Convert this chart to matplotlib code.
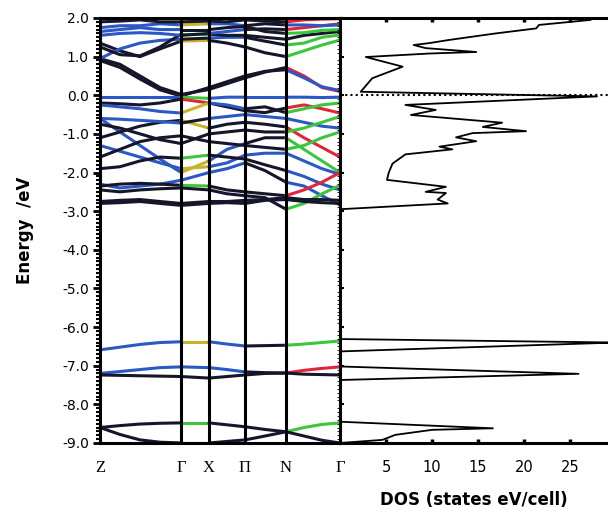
import matplotlib
matplotlib.use("Agg")
import matplotlib.pyplot as plt
from matplotlib.ticker import MultipleLocator

# k-path sample positions (path units) and high-symmetry labels
K_GRID = [0, 20, 40, 60, 81, 109, 127, 145, 165, 186, 204, 222, 240]
K_LABEL_POS = [0, 81, 109, 145, 186, 240]
K_LABELS = ["Z", "Γ", "X", "Π", "N", "Γ"]
SEG_IDX = [0, 4, 5, 7, 9, 12]

# conduction bands (eV at each K_GRID point) and per-segment colours
COND_BANDS = [
    [0.95, 0.80, 0.50, 0.20, 0.02, 0.15, 0.30, 0.45, 0.60, 0.72, 0.50, 0.20, 0.10],
    [0.90, 0.72, 0.42, 0.14, -0.02, 0.20, 0.35, 0.50, 0.62, 0.66, 0.45, 0.22, 0.12],
    [1.35, 1.15, 1.00, 1.20, 1.40, 1.42, 1.35, 1.25, 1.10, 1.00, 1.15, 1.30, 1.43],
    [0.95, 1.20, 1.35, 1.42, 1.45, 1.48, 1.50, 1.50, 1.40, 1.30, 1.35, 1.50, 1.56],
    [1.25, 1.05, 1.02, 1.25, 1.58, 1.58, 1.55, 1.55, 1.50, 1.45, 1.55, 1.60, 1.65],
    [1.55, 1.60, 1.62, 1.60, 1.55, 1.60, 1.65, 1.70, 1.72, 1.70, 1.75, 1.80, 1.85],
    [1.75, 1.80, 1.80, 1.85, 1.82, 1.85, 1.85, 1.80, 1.85, 1.82, 1.82, 1.80, 1.82],
    [1.65, 1.70, 1.75, 1.70, 1.70, 1.70, 1.75, 1.78, 1.65, 1.60, 1.62, 1.68, 1.70],
    [1.90, 1.92, 1.95, 1.90, 1.90, 1.92, 1.90, 1.95, 1.92, 1.90, 1.95, 1.97, 1.98],
]
COND_COLORS = ["kkkkr", "kkkkb", "kykkg", "bkbkg", "kgkkk", "bkbkr", "bybkb", "bkkkg", "kkkkr"]

VAL_BANDS = [
    [-0.05, -0.05, -0.05, -0.05, -0.05, -0.08, -0.05, -0.05, -0.05, -0.05, -0.05, -0.06, -0.05],
    [-0.20, -0.22, -0.25, -0.20, -0.10, -0.20, -0.30, -0.40, -0.45, -0.33, -0.25, -0.35, -0.46],
    [-0.25, -0.30, -0.35, -0.42, -0.46, -0.20, -0.25, -0.35, -0.30, -0.45, -0.35, -0.25, -0.20],
    [-0.60, -0.95, -1.30, -1.65, -2.00, -1.70, -1.40, -1.25, -1.10, -1.10, -1.40, -1.70, -2.00],
    [-1.10, -0.95, -0.80, -0.70, -0.65, -0.85, -0.75, -0.70, -0.75, -0.82, -1.10, -1.35, -1.60],
    [-0.60, -0.62, -0.65, -0.68, -0.72, -0.60, -0.55, -0.50, -0.55, -0.60, -0.70, -0.80, -0.85],
    [-0.75, -0.85, -1.00, -1.15, -1.25, -1.00, -0.95, -0.90, -0.95, -0.95, -0.85, -0.70, -0.55],
    [-1.30, -1.45, -1.60, -1.75, -1.90, -1.85, -1.75, -1.55, -1.50, -1.50, -1.70, -1.90, -2.05],
    [-1.60, -1.40, -1.20, -1.10, -1.05, -1.20, -1.25, -1.30, -1.35, -1.40, -1.30, -1.10, -0.95],
    [-1.90, -1.85, -1.70, -1.60, -1.63, -1.55, -1.60, -1.65, -1.80, -1.95, -2.10, -2.30, -2.45],
    [-2.30, -2.40, -2.35, -2.30, -2.20, -2.00, -1.90, -1.75, -1.95, -2.25, -2.35, -2.60, -2.84],
    [-2.35, -2.30, -2.28, -2.30, -2.33, -2.35, -2.45, -2.50, -2.55, -2.60, -2.45, -2.25, -2.00],
    [-2.45, -2.50, -2.45, -2.42, -2.40, -2.45, -2.55, -2.60, -2.65, -2.95, -2.80, -2.55, -2.33],
    [-2.75, -2.72, -2.70, -2.75, -2.80, -2.75, -2.75, -2.72, -2.70, -2.65, -2.70, -2.70, -2.72],
    [-2.80, -2.78, -2.75, -2.80, -2.85, -2.80, -2.78, -2.80, -2.72, -2.70, -2.75, -2.78, -2.80],
]
VAL_COLORS = ["bgbbb", "krkkr", "bybkg", "bybkg", "kykkr", "bkbbb", "kkkkg", "bybbb",
              "kkkkg", "kgkkb", "bbbkb", "kgkkr", "kkkkg", "kkkkk", "kkkkk"]

CORE_BANDS = [
    [-6.59, -6.52, -6.45, -6.40, -6.38, -6.38, -6.44, -6.49, -6.48, -6.47, -6.44, -6.40, -6.36],
    [-7.20, -7.15, -7.10, -7.05, -7.03, -7.05, -7.10, -7.16, -7.18, -7.19, -7.12, -7.07, -7.03],
    [-7.24, -7.25, -7.26, -7.27, -7.28, -7.32, -7.28, -7.24, -7.20, -7.19, -7.22, -7.23, -7.24],
    [-8.60, -8.55, -8.51, -8.49, -8.48, -8.48, -8.53, -8.58, -8.65, -8.71, -8.60, -8.52, -8.48],
    [-8.60, -8.78, -8.92, -8.98, -9.00, -9.00, -8.96, -8.92, -8.82, -8.71, -8.82, -8.93, -9.00],
]
CORE_COLORS = ["bybkg", "bbbkr", "kkkkk", "kgkkg", "kkkkk"]

# density of states: (DOS value, energy) along the curve
DOS_VALUE = [27.2, 21.6, 21.3, 16.9, 11.8, 9.7, 8.0, 9.3, 14.8, 9.7, 2.8, 6.8, 3.5, 2.25,
             27.9, 7.1, 10.4, 7.7, 17.6, 15.5, 20.2, 14.4, 12.6, 14.8, 10.8, 12.2, 7.1, 5.7,
             5.3, 5.1, 11.5, 9.3, 11.5, 10.6, 11.7, 0.0,
             0.0, 0.0, 30.0, 0.0, 0.0, 25.9, 0.0, 0.0, 16.6, 10.0, 6.0, 4.6, 0.0]
DOS_ENERGY = [1.95, 1.82, 1.73, 1.60, 1.43, 1.35, 1.30, 1.22, 1.12, 1.08, 0.99, 0.74, 0.44, 0.09,
              -0.03, -0.25, -0.38, -0.51, -0.71, -0.82, -0.93, -0.98, -1.09, -1.19, -1.33, -1.40,
              -1.53, -1.77, -2.00, -2.19, -2.37, -2.50, -2.53, -2.70, -2.80, -2.95,
              -6.25, -6.31, -6.40, -6.63, -7.02, -7.21, -7.37, -8.45, -8.62, -8.66, -8.79, -8.92, -9.00]

COLOR_MAP = {"k": "#16162b", "b": "#2a58c4", "g": "#3cc63c", "r": "#e0263a", "y": "#c9b22c"}


def draw_bands(ax, bands, colors):
    for energies, cols in zip(bands, colors):
        for s in range(5):
            i0, i1 = SEG_IDX[s], SEG_IDX[s + 1]
            ax.plot(K_GRID[i0:i1 + 1], energies[i0:i1 + 1], color=COLOR_MAP[cols[s]],
                    lw=2.2, solid_capstyle="round", solid_joinstyle="round", zorder=2)


def main() -> None:
    fig = plt.figure(figsize=(6.08, 5.08), dpi=100)
    fig.patch.set_facecolor("white")

    ax = fig.add_axes([0.1645, 0.128, 0.3947, 0.8366])
    dos = fig.add_axes([0.5592, 0.128, 0.4408, 0.8366], sharey=ax)

    draw_bands(ax, COND_BANDS, COND_COLORS)
    draw_bands(ax, VAL_BANDS, VAL_COLORS)
    draw_bands(ax, CORE_BANDS, CORE_COLORS)
    for kp in K_LABEL_POS[1:-1]:
        ax.axvline(kp, color="black", lw=2.2, zorder=3)

    ax.set_xlim(K_LABEL_POS[0], K_LABEL_POS[-1])
    ax.set_ylim(-9.0, 2.0)
    ax.set_xticks(K_LABEL_POS)
    ax.set_xticklabels(K_LABELS, family="Liberation Serif", fontsize=12)
    ax.tick_params(axis="x", length=0, pad=12)
    ax.yaxis.set_major_locator(MultipleLocator(1.0))
    ax.yaxis.set_minor_locator(MultipleLocator(0.1))
    ax.yaxis.set_major_formatter(plt.FormatStrFormatter("%.1f"))
    ax.tick_params(axis="y", which="major", direction="out", length=5, width=2, labelsize=10, pad=3)
    ax.tick_params(axis="y", which="minor", direction="out", length=3, width=1.5)
    for side in ["left", "top", "bottom", "right"]:
        ax.spines[side].set_linewidth(2.2)
    ax.set_ylabel("Energy  /eV", fontsize=12, weight="bold", labelpad=20)

    dos.plot(DOS_VALUE[:36], DOS_ENERGY[:36], color="black", lw=1.3)
    dos.plot(DOS_VALUE[36:], DOS_ENERGY[36:], color="black", lw=1.3)
    dos.axhline(0.0, color="black", lw=1.5, ls=(0, (1, 1.5)))
    dos.set_xlim(0, 29.1)
    dos.set_xticks([5, 10, 15, 20, 25])
    dos.tick_params(axis="x", direction="in", length=3, width=2.5, labelsize=10.5, pad=12,
                    top=True)
    dos.tick_params(axis="y", direction="in", length=3, width=1.5, labelleft=False)
    dos.spines["right"].set_visible(False)
    for side in ["left", "top", "bottom"]:
        dos.spines[side].set_linewidth(2.2)
    dos.set_xlabel("DOS (states eV/cell)", fontsize=12, weight="bold", labelpad=12)

    fig.savefig("out.png", dpi=100)
    plt.close(fig)


if __name__ == "__main__":
    main()
